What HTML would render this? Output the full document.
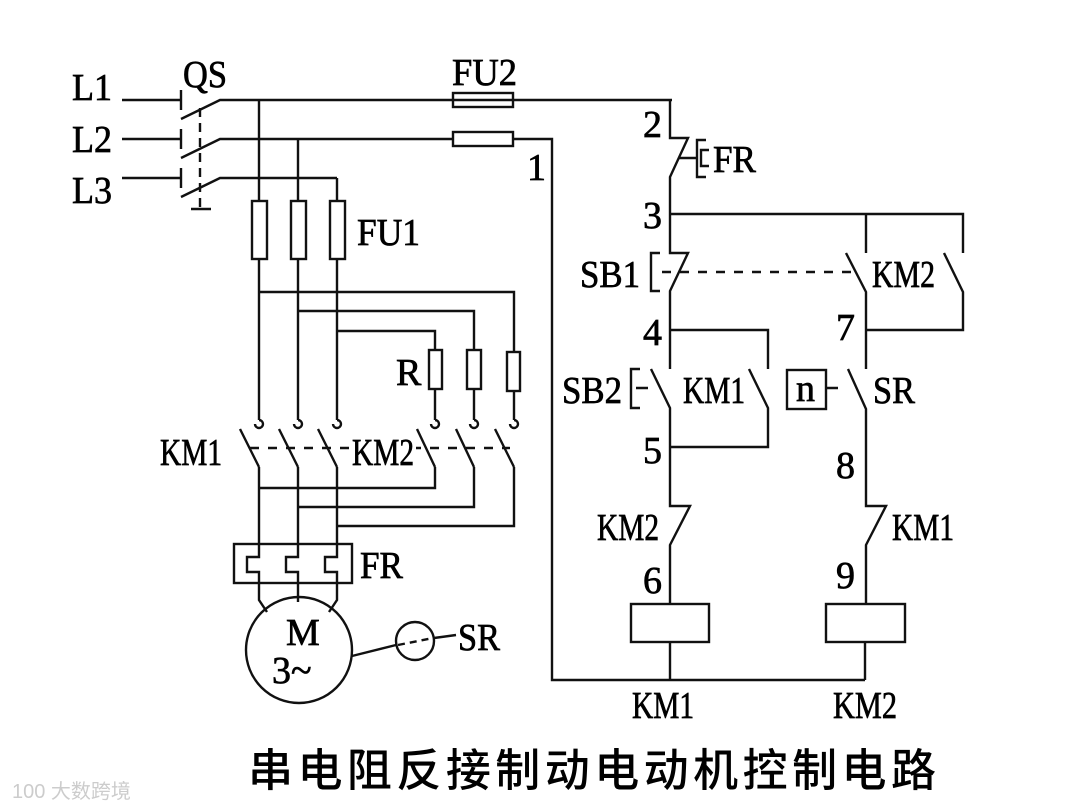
<!DOCTYPE html>
<html><head><meta charset="utf-8"><style>
html,body{margin:0;padding:0;background:#fff;}
svg{display:block;}
text{font-family:"Liberation Serif",serif;font-size:38px;fill:#000;stroke:#000;stroke-width:0.7;}
</style></head><body>
<svg width="1080" height="810" viewBox="0 0 1080 810" xmlns="http://www.w3.org/2000/svg">
<g fill="none" stroke="#111" stroke-width="2.4">
<path d="M122 100H180M181 90V110M122 139H180M181 129V149M122 178H180M181 168V188"/>
<path d="M181 119L220 100H672M181 158L220 139H453M181 197L220 178H337"/>
<path d="M200 108V210" stroke-dasharray="9 6"/>
<path d="M191 209H211"/>
<rect x="453" y="93" width="60" height="14"/>
<rect x="453" y="132" width="60" height="14"/>
<path d="M513 139H552V680H865"/>
<path d="M259 100V420M298 139V420M337 178V420"/>
<rect x="252" y="201" width="15" height="58" fill="#fff"/>
<rect x="291" y="201" width="15" height="58" fill="#fff"/>
<rect x="330" y="201" width="15" height="58" fill="#fff"/>
<path d="M259 292H514V420M298 311H474V420M337 331H435V420"/>
<rect x="429" y="350" width="13" height="39" fill="#fff"/>
<rect x="467" y="350" width="14" height="39" fill="#fff"/>
<rect x="507" y="352" width="13" height="39" fill="#fff"/>
<path d="M259 420A4 4 0 1 1 255 424M298 420A4 4 0 1 1 294 424M337 420A4 4 0 1 1 333 424M435 420A4 4 0 1 1 431 424M474 420A4 4 0 1 1 470 424M514 420A4 4 0 1 1 510 424"/>
<path d="M240 429L259 467M279 429L298 467M318 429L337 467M417 429L435 467M456 429L474 467M495 429L514 467"/>
<path d="M250 448H510" stroke-dasharray="9 9"/>
<path d="M259 467V557H247V572H259V600L267 612M298 467V557H286V572H298V602M337 467V557H325V572H337V600L329 612"/>
<path d="M435 467V488H259M474 467V507H298M514 467V526H337"/>
<rect x="234" y="544" width="118" height="39"/>
<circle cx="299" cy="650" r="53"/>
<path d="M352 656L396 645"/>
<circle cx="415" cy="641" r="19"/>
<path d="M398 645L433 638" stroke-dasharray="7 5"/>
<path d="M434 638L456 635"/>
<path d="M670 100V138H688L670 177V253H688L670 291V369"/>
<path d="M679 158H696M706 140H697V177H706M709 150H701V166H709"/>
<path d="M670 214H963V253M866 214V253"/>
<path d="M660 253H651V291H660"/>
<path d="M846 253L866 292V369M944 253L963 292V330H866"/>
<path d="M670 330H768V369"/>
<path d="M651 369L670 408V506H690L670 545V604M749 369L768 408V447H670"/>
<path d="M640 369H631V408H640M636 388H648"/>
<rect x="787" y="370" width="39" height="39"/>
<path d="M826 388H838M848 369L866 409V506H886L866 545V604"/>
<rect x="631" y="604" width="78" height="38"/>
<rect x="826" y="604" width="79" height="38"/>
<path d="M670 642V680M865 642V680"/>
<path d="M662 272H858" stroke-dasharray="9 9"/>
</g>
<rect x="350" y="436" width="66" height="30" fill="#fff"/>
<g>
<text x="72" y="100" textLength="40" lengthAdjust="spacingAndGlyphs">L1</text>
<text x="72" y="152" textLength="40" lengthAdjust="spacingAndGlyphs">L2</text>
<text x="72" y="203" textLength="40" lengthAdjust="spacingAndGlyphs">L3</text>
<text x="183" y="87" textLength="44" lengthAdjust="spacingAndGlyphs">QS</text>
<text x="452" y="85" textLength="65" lengthAdjust="spacingAndGlyphs">FU2</text>
<text x="527" y="180">1</text>
<text x="357" y="245" textLength="63" lengthAdjust="spacingAndGlyphs">FU1</text>
<text x="396" y="385">R</text>
<text x="160" y="465" textLength="62" lengthAdjust="spacingAndGlyphs">KM1</text>
<text x="352" y="465" textLength="62" lengthAdjust="spacingAndGlyphs">KM2</text>
<text x="360" y="578" textLength="43" lengthAdjust="spacingAndGlyphs">FR</text>
<text x="286" y="645" font-size="38">M</text>
<text x="272" y="683">3~</text>
<text x="458" y="650" textLength="42" lengthAdjust="spacingAndGlyphs">SR</text>
<text x="643" y="137">2</text>
<text x="713" y="172" textLength="43" lengthAdjust="spacingAndGlyphs">FR</text>
<text x="643" y="228">3</text>
<text x="580" y="287" textLength="60" lengthAdjust="spacingAndGlyphs">SB1</text>
<text x="872" y="287" textLength="63" lengthAdjust="spacingAndGlyphs">KM2</text>
<text x="836" y="340">7</text>
<text x="643" y="345">4</text>
<text x="562" y="403" textLength="60" lengthAdjust="spacingAndGlyphs">SB2</text>
<text x="683" y="403" textLength="62" lengthAdjust="spacingAndGlyphs">KM1</text>
<text x="796" y="401">n</text>
<text x="873" y="403" textLength="42" lengthAdjust="spacingAndGlyphs">SR</text>
<text x="643" y="463">5</text>
<text x="836" y="478">8</text>
<text x="597" y="540" textLength="62" lengthAdjust="spacingAndGlyphs">KM2</text>
<text x="892" y="540" textLength="62" lengthAdjust="spacingAndGlyphs">KM1</text>
<text x="643" y="593">6</text>
<text x="836" y="588">9</text>
<text x="632" y="718" textLength="62" lengthAdjust="spacingAndGlyphs">KM1</text>
<text x="833" y="718" textLength="64" lengthAdjust="spacingAndGlyphs">KM2</text>
<text x="248" y="786" style="font-family:'Noto Sans CJK SC',sans-serif;font-size:45px;font-weight:500;stroke:none;" textLength="688">串电阻反接制动电动机控制电路</text>
<text x="12" y="798" style="font-family:'Liberation Sans','Noto Sans CJK SC',sans-serif;font-size:20px;fill:#ccc;stroke:none;">100 大数跨境</text>
</g>
</svg>
</body></html>
